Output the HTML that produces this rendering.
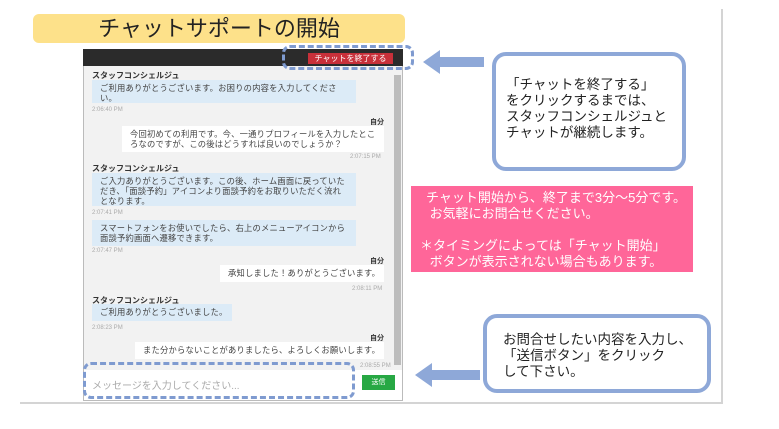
<!DOCTYPE html>
<html><head><meta charset="utf-8"><style>
*{margin:0;padding:0;box-sizing:border-box}
body{width:779px;height:429px;background:#fff;position:relative;overflow:hidden;font-family:"Liberation Sans","Noto Sans CJK JP",sans-serif}
.a{position:absolute}
.panel{left:20px;top:9px;width:703px;height:395px;border-right:2px solid #d4d4d4;border-bottom:2px solid #d4d4d4;background:#fff}
.title{left:33px;top:14px;width:372px;height:29px;background:#fde18a;border-radius:6px;text-align:center;font-size:22px;line-height:29px;color:#222}
.chat{left:83px;top:49px;width:320px;height:352px;background:#f2f2f2;border:1px solid #bbb}
.hdr{left:83px;top:49px;width:320px;height:17px;background:#2b2b2b}
.red{left:308px;top:53px;width:85px;height:11px;background:#c8303a;color:#fff;font-size:8px;line-height:11px;text-align:center}
.dash{border:3px dashed #7f9bd0;border-radius:8px}
.name{font-size:8px;font-weight:bold;color:#333}
.b{background:#dcebf7;font-size:8.3px;color:#444;padding:3px 8px;line-height:10px;letter-spacing:0.2px}
.w{background:#fff;font-size:8.3px;color:#444;padding:3px 8px;line-height:10px;letter-spacing:0.2px}
.n{white-space:nowrap;padding:3px 4px 3px 8px}
.t{font-size:6px;color:#aaa}
.me{font-size:7px;font-weight:bold;color:#333}
.box{border:4px solid #8ea8d8;border-radius:14px;background:#fff;font-size:13.5px;line-height:16px;color:#222}
.pink{left:411px;top:186px;width:282px;height:86px;background:#ff6699;color:#fff;font-size:13px;line-height:16px}
</style></head><body>
<div class="a panel"></div>
<div class="a title">チャットサポートの開始</div>
<div class="a chat"></div>
<div class="a hdr"></div>
<div class="a red">チャットを終了する</div>
<div class="a dash" style="left:282px;top:45px;width:132px;height:25px"></div>
<div class="a" style="left:394px;top:75px;width:7px;height:290px;background:#bdbdbd"></div>

<div class="a name" style="left:92px;top:70px">スタッフコンシェルジュ</div>
<div class="a b" style="left:92px;top:80px;width:264px;height:23px">ご利用ありがとうございます。お困りの内容を入力してください。</div>
<div class="a t" style="left:92px;top:107px">2:06:40 PM</div>
<div class="a me" style="left:370px;top:117px">自分</div>
<div class="a w" style="left:122px;top:126px;width:262px;height:26px">今回初めての利用です。今、一通りプロフィールを入力したところなのですが、この後はどうすれば良いのでしょうか？</div>
<div class="a t" style="left:350px;top:154px">2:07:15 PM</div>
<div class="a name" style="left:92px;top:163px">スタッフコンシェルジュ</div>
<div class="a b" style="left:92px;top:173px;width:264px;height:33px">ご入力ありがとうございます。この後、ホーム画面に戻っていただき、「面談予約」アイコンより面談予約をお取りいただく流れとなります。</div>
<div class="a t" style="left:92px;top:210px">2:07:41 PM</div>
<div class="a b" style="left:92px;top:220px;width:264px;height:26px">スマートフォンをお使いでしたら、右上のメニューアイコンから面談予約画面へ遷移できます。</div>
<div class="a t" style="left:92px;top:248px">2:07:47 PM</div>
<div class="a me" style="left:370px;top:256px">自分</div>
<div class="a w n" style="left:220px;top:265px;width:164px;height:17px">承知しました！ありがとうございます。</div>
<div class="a t" style="left:352px;top:286px">2:08:11 PM</div>
<div class="a name" style="left:92px;top:295px">スタッフコンシェルジュ</div>
<div class="a b n" style="left:92px;top:304px;width:140px;height:17px">ご利用ありがとうございました。</div>
<div class="a t" style="left:92px;top:325px">2:08:23 PM</div>
<div class="a me" style="left:370px;top:333px">自分</div>
<div class="a w n" style="left:135px;top:342px;width:249px;height:17px">また分からないことがありましたら、よろしくお願いします。</div>
<div class="a t" style="left:360px;top:363px">2:08:55 PM</div>
<div class="a" style="left:84px;top:370px;width:318px;height:30px;background:#fff"></div>
<div class="a" style="left:92px;top:377px;font-size:10px;color:#aaa">メッセージを入力してください...</div>
<div class="a" style="left:362px;top:375px;width:33px;height:15px;background:#27a844;color:#fff;font-size:7px;line-height:15px;text-align:center">送信</div>
<div class="a dash" style="left:83px;top:362px;width:272px;height:37px"></div>

<svg class="a" style="left:0;top:0" width="779" height="429">
<g fill="#8ea8d8"><rect x="438" y="57" width="46" height="10"/><polygon points="423,62 440,50 440,74"/>
<rect x="430" y="370" width="50" height="10"/><polygon points="415,375 432,363 432,387"/></g>
</svg>
<div class="a box" style="left:492px;top:52px;width:194px;height:119px;padding:21px 0 0 10px">「チャットを終了する」<br>をクリックするまでは、<br>スタッフコンシェルジュと<br>チャットが継続します。</div>
<div class="a pink"><div style="padding:4px 0 0 15px">チャット開始から、終了まで3分～5分です。<br>&nbsp;お気軽にお問合せください。<br><br><span style="margin-left:-6px">＊タイミングによっては「チャット開始」</span><br>&nbsp;ボタンが表示されない場合もあります。</div></div>
<div class="a box" style="left:483px;top:314px;width:228px;height:79px;padding:14px 0 0 16px">お問合せしたい内容を入力し、<br>「送信ボタン」をクリック<br>して下さい。</div>
</body></html>
